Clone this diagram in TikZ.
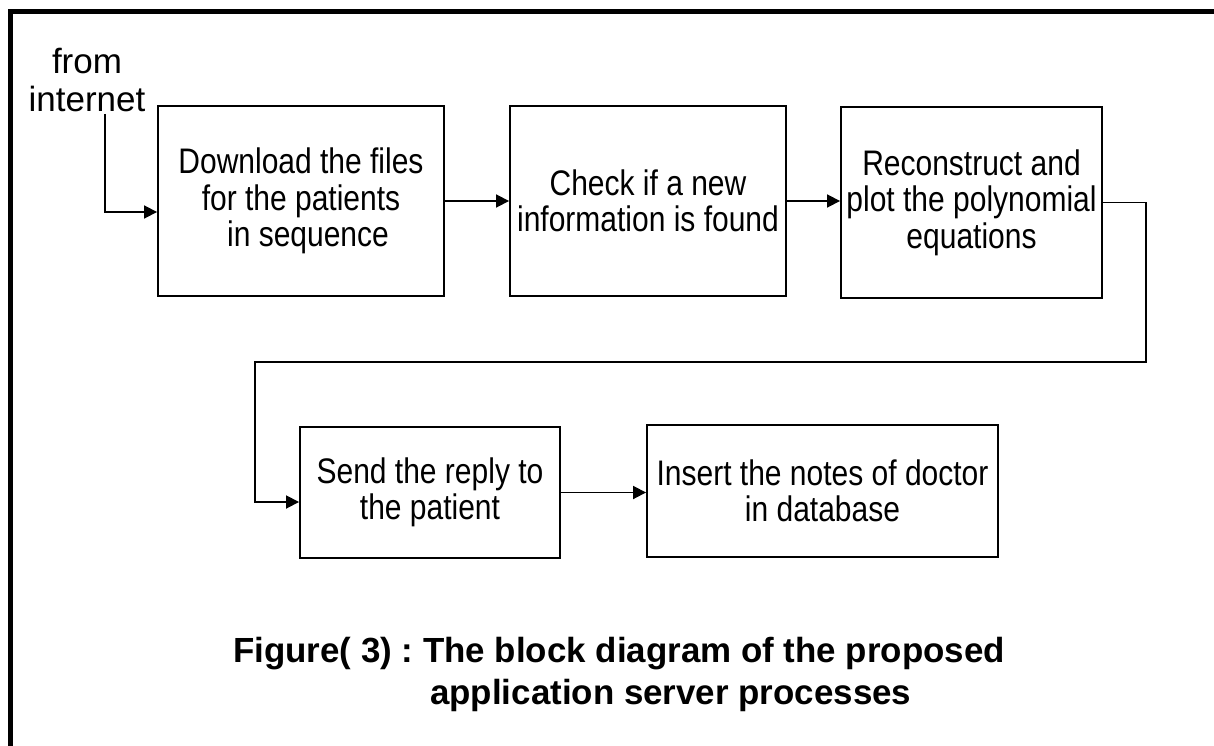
\documentclass[tikz,border=0pt]{standalone}
\usepackage{fontspec}
\setmainfont{Liberation Sans}
% block labels are set narrower than their height, as in the drawing
\newfontfamily\blockfont[FakeStretch=0.845]{Liberation Sans}
\usetikzlibrary{arrows.meta}
\frenchspacing

\begin{document}
\begin{tikzpicture}[x=1pt,y=-1pt,
  blockbox/.style={draw=black,line width=1.9pt,inner sep=2pt,align=center,
    font=\blockfont\fontsize{35.5}{36.5}\selectfont},
  flow/.style={draw=black,line width=1.8pt,-{Triangle[length=13pt,width=13pt]}},
  captiontext/.style={font=\fontsize{34.9}{42}\selectfont\bfseries,anchor=base west,inner sep=0pt}
]
\useasboundingbox (0,0) rectangle (1214,746);
\fill[white] (0,0) rectangle (1214,746);

% frame: top and left rules
\draw[line width=5pt,line join=miter] (1214,11.5) -- (10.5,11.5) -- (10.5,746);

% incoming source label
\node[align=center,inner sep=0pt,font=\fontsize{35}{38}\selectfont] (inet) at (87,80)
  {from\\internet};
\coordinate (src) at (105,114);

% process blocks
\node[blockbox,minimum width=286pt,minimum height=190pt] (box1) at (301,201)
  {Download the files\\for the patients\\\hspace*{14pt}in sequence};
\node[blockbox,minimum width=276pt,minimum height=190pt] (box2) at (648,201)
  {Check if a new\\information is found};
\node[blockbox,minimum width=261pt,minimum height=191pt] (box3) at (971.5,202.5)
  {Reconstruct and\\plot the polynomial\\equations};
\node[blockbox,minimum width=260pt,minimum height=131pt] (box4) at (430,492.5)
  {Send the reply to\\the patient};
\node[blockbox,minimum width=351pt,minimum height=132pt] (box5) at (822.5,491)
  {Insert the notes of doctor\\in database};

% return path corners
\coordinate (r1) at (1146,362);
\coordinate (l1) at (255,362);

% connectors
\draw[flow] (src) |- ([yshift=-11pt]box1.west);
\draw[flow] (box1.east) -- (box1.east -| box2.west);
\draw[flow] (box2.east) -- (box2.east -| box3.west);
\draw[flow] (box3.east) -| (r1) -- (l1) |- ([yshift=-9.5pt]box4.west);
\draw[flow] (box4.east) -- (box4.east -| box5.west);

% caption
\node[captiontext] (cap1) at (233,662) {Figure( 3) : The block diagram of the proposed};
\node[captiontext] (cap2) at (430,704) {application server processes};
\end{tikzpicture}
\end{document}
